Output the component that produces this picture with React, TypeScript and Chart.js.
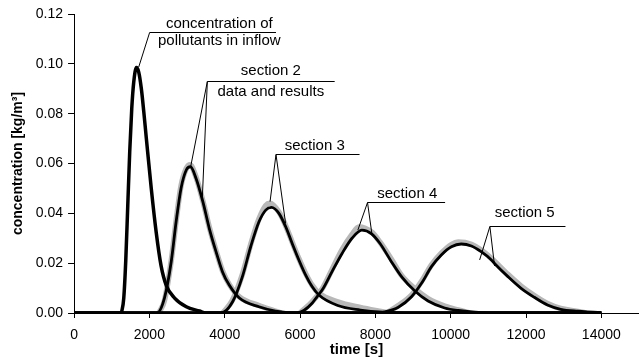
import { useEffect, useRef } from "react";
import { Chart, registerables } from "chart.js";

Chart.register(...registerables);

// ---- data (time in s, concentration in kg/m3) ----
const inflowTime = [0, 1250, 1268, 1320, 1373, 1426, 1479, 1532, 1585, 1655, 1717, 1787, 1850, 1920, 2050, 2180, 2310, 2450, 2670, 2980, 3330, 3500, 14000];
const inflowConc = [0, 0, 0.0008, 0.006, 0.021, 0.043, 0.065, 0.082, 0.0927, 0.0985, 0.0967, 0.09, 0.081, 0.07, 0.05, 0.0325, 0.019, 0.011, 0.006, 0.0025, 0.0008, 0, 0];

const s2ModelTime = [0, 2200, 2400, 2580, 2710, 2840, 2980, 3090, 3240, 3420, 3590, 3770, 3940, 4120, 4390, 4910, 5350, 6000, 14000];
const s2ModelConc = [0, 0, 0.006, 0.0206, 0.0366, 0.05, 0.0574, 0.0587, 0.054, 0.0447, 0.034, 0.0246, 0.0166, 0.0112, 0.006, 0.0025, 0.0008, 0, 0];
const s2DataTime = [2250, 2400, 2580, 2710, 2840, 2980, 3080, 3240, 3420, 3590, 3770, 3940, 4120, 4390, 4910, 5300, 5500];
const s2DataConc = [0, 0.005, 0.021, 0.037, 0.051, 0.058, 0.0595, 0.0545, 0.045, 0.0345, 0.025, 0.017, 0.0115, 0.0065, 0.003, 0.001, 0];

const s3ModelTime = [0, 3900, 4210, 4470, 4690, 4910, 5090, 5240, 5440, 5620, 5790, 5970, 6150, 6320, 6500, 7000, 7600, 8200, 9000, 14000];
const s3ModelConc = [0, 0, 0.0045, 0.0146, 0.0266, 0.0366, 0.0413, 0.0424, 0.04, 0.0346, 0.028, 0.0213, 0.0152, 0.0106, 0.0072, 0.003, 0.0012, 0.0003, 0, 0];
const s3DataTime = [3950, 4200, 4470, 4690, 4910, 5090, 5200, 5440, 5620, 5790, 5970, 6150, 6320, 6500, 7000, 7600, 8000, 8400];
const s3DataConc = [0, 0.005, 0.0155, 0.0275, 0.0378, 0.0432, 0.044, 0.0405, 0.035, 0.0285, 0.0218, 0.0158, 0.0112, 0.008, 0.0045, 0.0022, 0.001, 0];

const s4ModelTime = [0, 5900, 6100, 6320, 6450, 6600, 6850, 7120, 7380, 7640, 7900, 8120, 8430, 8700, 9050, 9400, 9840, 10200, 11000, 14000];
const s4ModelConc = [0, 0, 0.001, 0.0039, 0.0065, 0.0095, 0.0166, 0.024, 0.03, 0.0333, 0.0318, 0.028, 0.0205, 0.0145, 0.0088, 0.0048, 0.002, 0.001, 0, 0];
const s4DataTime = [6000, 6320, 6600, 6850, 7120, 7380, 7560, 7900, 8120, 8430, 8700, 9050, 9400, 9840, 10200, 10500];
const s4DataConc = [0, 0.0045, 0.01, 0.0175, 0.0255, 0.0315, 0.0345, 0.0325, 0.0285, 0.0215, 0.015, 0.0098, 0.0058, 0.0028, 0.0012, 0];

const s5ModelTime = [0, 8000, 8260, 8610, 8960, 9230, 9490, 9750, 10020, 10280, 10550, 10810, 11080, 11170, 11520, 11870, 12220, 12570, 12920, 13370, 13900, 14000];
const s5ModelConc = [0, 0, 0.0005, 0.0023, 0.0065, 0.012, 0.0186, 0.0233, 0.0266, 0.0277, 0.0269, 0.0246, 0.0213, 0.0198, 0.0146, 0.0099, 0.0063, 0.0032, 0.0015, 0.0007, 0.0002, 0];
const s5DataTime = [8300, 8610, 8960, 9230, 9490, 9750, 10020, 10200, 10550, 10810, 11080, 11520, 11870, 12220, 12570, 12920, 13300, 13600];
const s5DataConc = [0, 0.003, 0.0072, 0.0128, 0.0193, 0.024, 0.0275, 0.0285, 0.0276, 0.0253, 0.022, 0.0155, 0.0108, 0.007, 0.0038, 0.0018, 0.0008, 0];

const xTicks = [0, 2000, 4000, 6000, 8000, 10000, 12000, 14000];
const yTicks = [0, 0.02, 0.04, 0.06, 0.08, 0.1, 0.12];

// annotation labels (anchored in data units)
const labelTexts = [
  ["concentration of", "pollutants in inflow"],
  ["section 2", "data and results"],
  ["section 3"],
  ["section 4"],
  ["section 5"],
];
const labelTextTime = [3856, 5225, 6392, 8848, 11965];
const labelTextConc = [[0.1144, 0.1075], [0.0955, 0.0871], [0.0654], [0.0461], [0.0385]];
const labelLineConc = [0.1128, 0.0931, 0.0639, 0.0445, 0.0349];
const labelLineStart = [2007, 3539, 5362, 7792, 11041];
const labelLineEnd = [5362, 6920, 7580, 9852, 13048];
const labelTargets = [
  [[1717, 0.0987]],
  [[3100, 0.059], [3407, 0.0465]],
  [[5204, 0.0447], [5617, 0.036]],
  [[7536, 0.0333], [7906, 0.032]],
  [[10769, 0.0213], [11165, 0.0189]],
];

const pts = (t: number[], c: number[]) => t.map((x, i) => ({ x, y: c[i] }));

const FONT = "'Liberation Sans', Arial, sans-serif";

const labelPlugin = {
  id: "leaderLabels",
  afterDatasetsDraw(chart: any) {
    const { ctx, scales } = chart;
    const xs = scales.x;
    const ys = scales.y;
    ctx.save();
    ctx.strokeStyle = "#000";
    ctx.lineWidth = 1;
    ctx.fillStyle = "#000";
    ctx.font = `15px ${FONT}`;
    ctx.textAlign = "center";
    ctx.textBaseline = "alphabetic";
    labelTexts.forEach((lines, i) => {
      const ly = Math.round(ys.getPixelForValue(labelLineConc[i])) + 0.5;
      const x0 = xs.getPixelForValue(labelLineStart[i]);
      const x1 = xs.getPixelForValue(labelLineEnd[i]);
      ctx.beginPath();
      ctx.moveTo(x0, ly);
      ctx.lineTo(x1, ly);
      labelTargets[i].forEach(([t, c]) => {
        ctx.moveTo(x0, ly);
        ctx.lineTo(xs.getPixelForValue(t), ys.getPixelForValue(c));
      });
      ctx.stroke();
      lines.forEach((txt, j) => {
        ctx.fillText(txt, xs.getPixelForValue(labelTextTime[i]), ys.getPixelForValue(labelTextConc[i][j]));
      });
    });
    ctx.restore();
  },
};

export default function App() {
  const ref = useRef<HTMLCanvasElement>(null);
  useEffect(() => {
    if (!ref.current) return;
    const black = (label: string, t: number[], c: number[], w: number) => ({
      label,
      data: pts(t, c),
      borderColor: "#000",
      borderWidth: w,
      pointRadius: 0,
      cubicInterpolationMode: "monotone" as const,
      fill: false,
      order: 0,
    });
    const gray = (label: string, t: number[], c: number[]) => ({
      label,
      data: pts(t, c),
      borderColor: "#b8b8b8",
      borderWidth: 5.5,
      pointRadius: 0,
      cubicInterpolationMode: "monotone" as const,
      fill: false,
      order: 1,
    });
    const chart = new Chart(ref.current, {
      type: "line",
      data: {
        datasets: [
          black("inflow", inflowTime, inflowConc, 3.5),
          black("section 2 model", s2ModelTime, s2ModelConc, 2.8),
          black("section 3 model", s3ModelTime, s3ModelConc, 2.8),
          black("section 4 model", s4ModelTime, s4ModelConc, 2.8),
          black("section 5 model", s5ModelTime, s5ModelConc, 2.8),
          gray("section 2 data", s2DataTime, s2DataConc),
          gray("section 3 data", s3DataTime, s3DataConc),
          gray("section 4 data", s4DataTime, s4DataConc),
          gray("section 5 data", s5DataTime, s5DataConc),
        ] as any,
      },
      options: {
        responsive: false,
        animation: false,
        layout: { padding: { top: 14, right: 0, left: 0, bottom: 0 } },
        plugins: { legend: { display: false }, tooltip: { enabled: false } },
        scales: {
          x: {
            type: "linear",
            min: 0,
            max: 15000,
            afterBuildTicks: (axis: any) => {
              axis.ticks = xTicks.map((v) => ({ value: v }));
            },
            grid: { drawOnChartArea: false, drawTicks: true, tickLength: 5, color: "#000" },
            border: { display: true, color: "#000", width: 1 },
            ticks: {
              color: "#000",
              font: { family: FONT, size: 14, lineHeight: 1 },
              padding: 10,
              maxRotation: 0,
              minRotation: 0,
              autoSkip: false,
              callback: (v: any) => String(v),
            },
            title: {
              display: true,
              text: "time [s]",
              color: "#000",
              font: { family: FONT, size: 15, weight: "bold", lineHeight: 1.2 },
              padding: { top: -11, bottom: 0 },
            },
          },
          y: {
            type: "linear",
            min: 0,
            max: 0.12,
            afterBuildTicks: (axis: any) => {
              axis.ticks = yTicks.map((v) => ({ value: v }));
            },
            grid: { drawOnChartArea: false, drawTicks: true, tickLength: 6, color: "#000" },
            border: { display: true, color: "#000", width: 1 },
            ticks: {
              color: "#000",
              font: { family: FONT, size: 14 },
              padding: 5,
              autoSkip: false,
              callback: (v: any) => Number(v).toFixed(2),
            },
            title: {
              display: true,
              text: "concentration [kg/m³]",
              color: "#000",
              font: { family: FONT, size: 14, weight: "bold", lineHeight: 1.2 },
              padding: { top: 10, bottom: 4 },
            },
          },
        },
      },
      plugins: [labelPlugin],
    });
    return () => chart.destroy();
  }, []);
  return (
    <div style={{ position: "absolute", left: 0, top: 0, width: 639, height: 359, background: "#fff" }}>
      <canvas ref={ref} width={639} height={359} style={{ display: "block" }} />
    </div>
  );
}
